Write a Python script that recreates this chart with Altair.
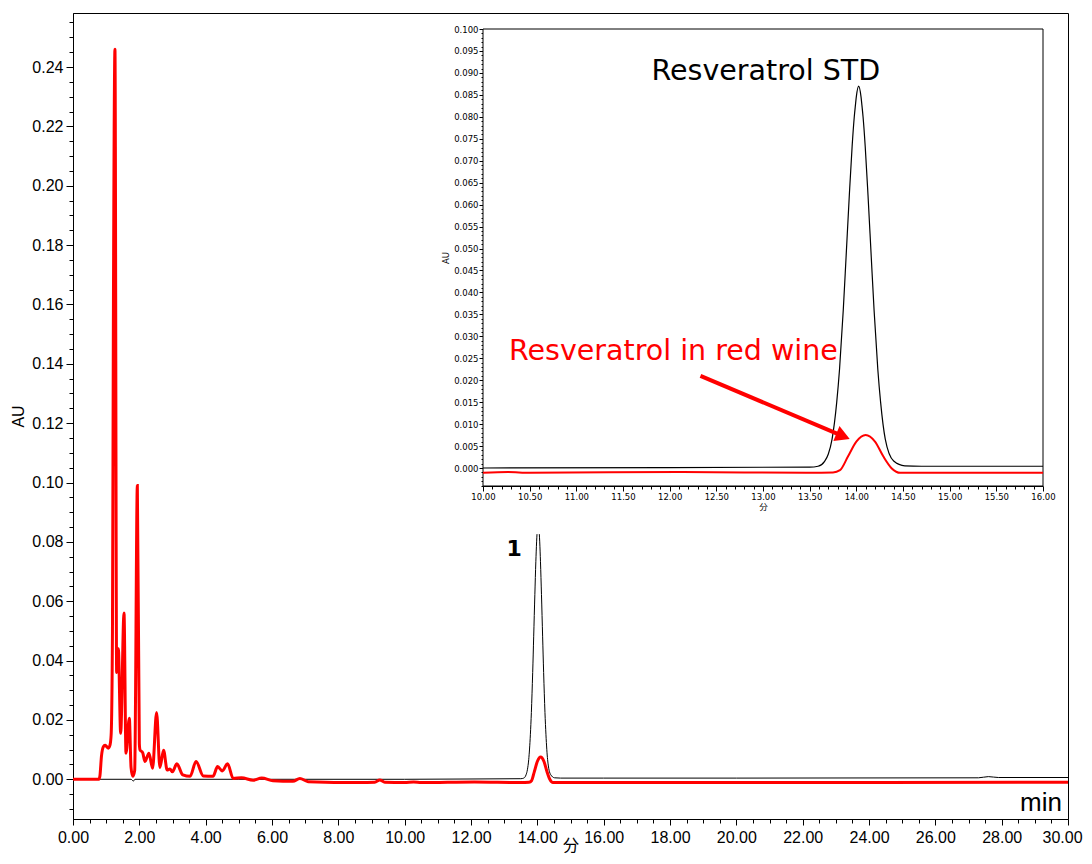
import altair as alt
import pandas as pd

# ---- data ----
std_t = [0.0, 1.75, 1.82, 1.87, 5.0, 10.0, 12.0, 13.5, 13.59, 13.66, 13.70, 13.74,
         13.79, 13.82, 13.86, 13.89, 13.925, 13.955, 13.978, 13.99, 14.0, 14.025,
         14.05, 14.06, 14.072, 14.095, 14.125, 14.16, 14.19, 14.23, 14.26, 14.31,
         14.40, 14.52, 14.70, 16.0, 20.0, 27.3, 27.6, 27.9, 30.0]
std_au = [0.0, 0.0, -0.0006, 0.0, 0.0, 0.0, 0.0001, 0.0002, 0.0004, 0.0015, 0.0032, 0.0066,
          0.0150, 0.0225, 0.0360, 0.0480, 0.0622, 0.0733, 0.0800, 0.0826, 0.0846, 0.0870,
          0.0846, 0.0826, 0.0800, 0.0733, 0.0622, 0.0480, 0.0360, 0.0225, 0.0150, 0.0066,
          0.0016, 0.0005, 0.0004, 0.0004, 0.0004, 0.0005, 0.0009, 0.0006, 0.0006]

wine_t = [0.0, 0.78, 0.81, 0.86, 0.915, 0.965, 1.015, 1.065, 1.115, 1.15, 1.19, 1.216,
          1.265, 1.316, 1.367, 1.437, 1.538, 1.598, 1.698, 1.75, 1.80, 1.86, 1.94,
          2.00, 2.02, 2.10, 2.17, 2.29, 2.40, 2.52, 2.62, 2.73, 2.84, 2.92, 3.00,
          3.13, 3.31, 3.53, 3.71, 3.93, 4.22, 4.36, 4.50, 4.66, 4.83, 5.08, 5.43,
          5.69, 6.03, 6.63, 6.84, 7.09, 8.65, 9.10, 9.25, 9.40, 10.0, 10.27, 10.5,
          12.1, 13.5, 13.75, 13.825, 13.91, 14.00, 14.10, 14.20, 14.29, 14.38, 14.47,
          16.0, 20.0, 30.0]
wine_au = [0.0, 0.0, 0.0010, 0.0080, 0.0110, 0.0115, 0.0110, 0.0105, 0.0115, 0.0150, 0.0500, 0.1500,
           0.246, 0.036, 0.044, 0.0155, 0.056, 0.0088, 0.0206, 0.0040, 0.0010, 0.0030, 0.099,
           0.0120, 0.0099, 0.0090, 0.0060, 0.0088, 0.0037, 0.0225, 0.0040, 0.0098, 0.0031, 0.0035, 0.0025,
           0.0052, 0.0015, 0.0010, 0.0060, 0.0011, 0.0010, 0.0043, 0.0028, 0.0052, 0.0003, 0.0005, -0.0003,
           0.0004, -0.0005, -0.0007, 0.0003, -0.0008, -0.0011, -0.0010, -0.0002, -0.0010, -0.0011, -0.0009, -0.0011,
           -0.0009, -0.0011, -0.0010, -0.0005, 0.0026, 0.0060, 0.0075, 0.0060, 0.0026, -0.0001, -0.0011,
           -0.0011, -0.0011, -0.0010]

main_x_ticks = [k / 2 for k in range(0, 61)]
main_y_ticks = [k / 200 for k in range(-2, 52)]
inset_x_ticks = [k / 10 for k in range(100, 161)]
inset_y_ticks = [k / 1000 for k in range(-4, 101)]

std_df = pd.DataFrame({"t": std_t, "au": std_au})
wine_df = pd.DataFrame({"t": wine_t, "au": wine_au})
one = pd.DataFrame({"n": [0]})

RED = "#ff0000"


def cond(test, major, minor):
    return {"condition": {"test": test, "value": major}, "value": minor}


def make_axis(orient, values, test, fmt, major_tick, minor_tick, font, size, pad,
              title, title_font, title_pad, offset=0, **extra):
    return alt.Axis(
        orient=orient, offset=offset, values=values, tickCount=1000,
        labelExpr=f"{test} ? format(datum.value, '{fmt}') : ''",
        labelFontSize=cond(test, size, 0),
        tickSize=cond(test, major_tick, minor_tick),
        tickColor="black", tickWidth=1, domainColor="black", domainWidth=1,
        labelFont=font, labelColor="black", labelPadding=pad,
        labelFlush=False, labelOverlap=False, labelBound=False, grid=False,
        title=title, titleFont=title_font, titleFontSize=size, titleFontWeight="normal",
        titleColor="black", titlePadding=title_pad, **extra)


# ---- main chart ----
X_MAIN = alt.Scale(domain=[0, 30], nice=False, zero=False)
Y_MAIN = alt.Scale(domain=[-0.01338, 0.2582], nice=False, zero=False)

x_main_axis = make_axis("bottom", main_x_ticks, "round(datum.value*2) % 4 == 0", ".2f",
                        6, 4, "Liberation Sans", 16, 4, "分", "Noto Sans CJK JP", -8,
                        labelOffset=cond("datum.value >= 30", -6, 0))
y_main_axis = make_axis("left", main_y_ticks, "round(datum.value*200) % 4 == 0", ".2f",
                        7, 4, "Liberation Sans", 16, 3, "AU", "Liberation Sans", 5)

main_black = (
    alt.Chart(std_df)
    .transform_filter("datum.au <= 0.0826")
    .transform_calculate(side="datum.t < 14.025 ? 'L' : 'R'")
    .mark_line(color="black", strokeWidth=1, interpolate="monotone")
    .encode(x=alt.X("t:Q", scale=X_MAIN, axis=x_main_axis),
            y=alt.Y("au:Q", scale=Y_MAIN, axis=y_main_axis),
            detail="side:N")
)
main_red = (
    alt.Chart(wine_df)
    .mark_line(color=RED, strokeWidth=3, interpolate="monotone")
    .encode(x="t:Q", y="au:Q")
)
label_1 = alt.Chart(one).mark_text(
    text="1", font="DejaVu Sans", fontSize=22, fontWeight="bold", color="black",
    baseline="alphabetic", align="center"
).encode(x=alt.datum(13.30), y=alt.datum(0.0752))
label_min = alt.Chart(one).mark_text(
    text="min", font="Liberation Sans", fontSize=26, color="black",
    baseline="alphabetic", align="right"
).encode(x=alt.datum(29.82), y=alt.datum(-0.0108))

main = alt.layer(main_black, main_red, label_1, label_min)

# ---- inset chart ----
X_IN = alt.Scale(domain=[10, 16], range=[410, 970], nice=False, zero=False)
Y_IN = alt.Scale(domain=[-0.0041, 0.100], range=[473, 16], nice=False, zero=False)

x_in_axis = make_axis("bottom", inset_x_ticks, "round(datum.value*10) % 5 == 0", ".2f",
                      5, 3, "DejaVu Sans", 8.5, 1, "分", "Noto Sans CJK JP", 2, offset=-333)
y_in_axis = make_axis("left", inset_y_ticks, "round(datum.value*1000) % 5 == 0", ".3f",
                      4, 2, "DejaVu Sans", 8.5, 1, "AU", "DejaVu Sans", 3, offset=-410)

inset_box = alt.Chart(one).mark_rect(
    fill="white", stroke="black", strokeWidth=1
).encode(
    x=alt.XDatum(10, scale=X_IN, axis=x_in_axis),
    x2=alt.X2Datum(16),
    y=alt.YDatum(-0.0041, scale=Y_IN, axis=y_in_axis),
    y2=alt.Y2Datum(0.100),
)

in_filter = "datum.t >= 10 && datum.t <= 16"
inset_black = (
    alt.Chart(std_df).transform_filter(in_filter)
    .mark_line(color="black", strokeWidth=1.2, interpolate="monotone")
    .encode(x="t:Q", y="au:Q")
)
inset_red = (
    alt.Chart(wine_df).transform_filter(in_filter)
    .mark_line(color=RED, strokeWidth=2, interpolate="monotone")
    .encode(x="t:Q", y="au:Q")
)
arrow_line = alt.Chart(one).mark_rule(color=RED, strokeWidth=4).encode(
    x=alt.datum(12.33), y=alt.datum(0.021), x2=alt.datum(13.85), y2=alt.datum(0.0073)
)
arrow_head = alt.Chart(one).mark_point(
    shape="M-0.8,-1L1,0L-0.8,1Z", size=256, filled=True, color=RED, opacity=1, angle=22.5
).encode(x=alt.datum(13.85), y=alt.datum(0.0073))
txt_std = alt.Chart(one).mark_text(
    text="Resveratrol STD", font="DejaVu Sans", fontSize=28.5, color="black",
    baseline="alphabetic", align="center"
).encode(x=alt.datum(13.03), y=alt.datum(0.0884))
txt_wine = alt.Chart(one).mark_text(
    text="Resveratrol in red wine", font="DejaVu Sans", fontSize=28.5, color=RED,
    baseline="alphabetic", align="center"
).encode(x=alt.datum(12.04), y=alt.datum(0.0246))

inset = alt.layer(inset_box, inset_black, inset_red, arrow_line, arrow_head, txt_std, txt_wine)

chart = (
    alt.layer(main, inset)
    .resolve_scale(x="independent", y="independent")
    .resolve_axis(x="independent", y="independent")
    .properties(width=995, height=806, background="white", autosize="none",
                padding={"left": 65, "top": 5, "right": 16, "bottom": 37})
    .configure_view(stroke="black", strokeWidth=1)
)

chart.save("out.html", embed_options={"renderer": "svg", "actions": False})
